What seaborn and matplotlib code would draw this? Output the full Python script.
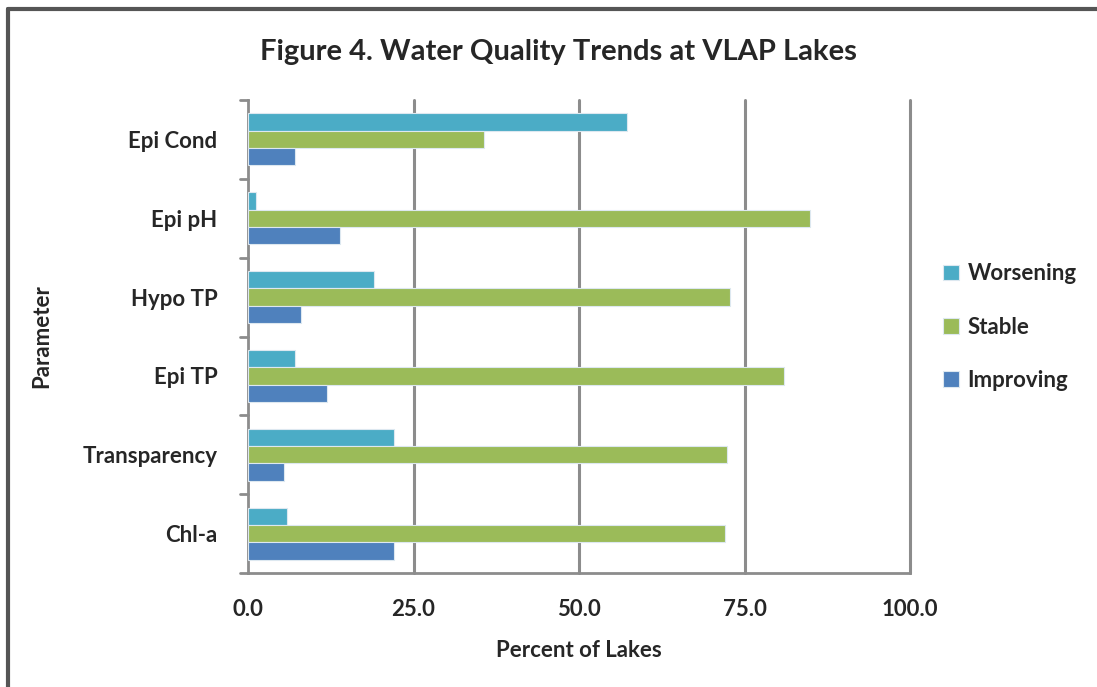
import pandas as pd
import seaborn as sns
import matplotlib.pyplot as plt
from matplotlib.lines import Line2D
import numpy as np

parameters = ['Epi Cond', 'Epi pH', 'Hypo TP', 'Epi TP', 'Transparency', 'Chl-a']
worsening = [57.2, 1.2, 19.1, 7.1, 22.0, 5.9]
stable = [35.6, 84.9, 72.8, 80.9, 72.4, 72.0]
improving = [7.1, 13.9, 8.0, 11.9, 5.5, 22.0]
trends = ['Worsening', 'Stable', 'Improving']
colors = ['#4BACC6', '#9BBB59', '#4F81BD']
xticks = [0.0, 25.0, 50.0, 75.0, 100.0]

df = pd.DataFrame({'Parameter': parameters, 'Worsening': worsening,
                   'Stable': stable, 'Improving': improving})
df = df.melt(id_vars='Parameter', var_name='Trend', value_name='Percent')

sns.set_style('white')
plt.rcParams['font.family'] = ['Lato', 'DejaVu Sans']
plt.rcParams['font.weight'] = 'bold'

fig = plt.figure(figsize=(10.97, 6.87), dpi=100)
ax = fig.add_axes([248 / 1097, 1 - 573 / 687, (910 - 248) / 1097, (573 - 100) / 687])

sns.barplot(data=df, x='Percent', y='Parameter', hue='Trend', order=parameters,
            hue_order=trends, palette=colors, width=0.66, orient='h', saturation=1,
            edgecolor='#dde8f0', linewidth=0.8, ax=ax, zorder=3)

ax.set_xlim(0, 100)
ax.set_ylim(5.5, -0.5)
ax.set_xticks(xticks)
ax.set_xticklabels([f'{v:.1f}' for v in xticks], fontsize=16, fontweight='bold')
ax.tick_params(axis='x', length=6, width=1.5, color='#8c8c8c', pad=13, direction='out')
ax.set_yticks(range(len(parameters)))
ax.set_yticklabels(parameters, fontsize=16, fontweight='bold')
ax.tick_params(axis='y', length=0, pad=22)
for b in np.arange(-0.5, len(parameters), 1.0):
    ax.plot([-0.012, 0], [b, b], transform=ax.get_yaxis_transform(), color='#8c8c8c',
            lw=2, clip_on=False, zorder=4)
ax.yaxis.grid(False)
ax.xaxis.grid(False)
for v in xticks[1:]:
    ax.axvline(v, color='#8c8c8c', lw=2.2, zorder=2, clip_on=False)
for s in ['top', 'right']:
    ax.spines[s].set_visible(False)
for s in ['left', 'bottom']:
    ax.spines[s].set_color('#8c8c8c')
    ax.spines[s].set_linewidth(2)

ax.set_xlabel('Percent of Lakes', fontsize=16, fontweight='bold', labelpad=14)
ax.set_ylabel('Parameter', fontsize=16, fontweight='bold', labelpad=22)

ax.legend(loc='center left', bbox_to_anchor=(1.02, 0.52), frameon=False,
          handlelength=0.7, handleheight=0.7, handletextpad=0.4, labelspacing=1.45,
          prop={'weight': 'bold', 'size': 16})

fig.text(558 / 1097, 1 - 52 / 687, 'Figure 4. Water Quality Trends at VLAP Lakes',
         ha='center', va='center', fontsize=21, fontweight='bold')

fig.add_artist(Line2D([8 / 1097, 8 / 1097], [0, 1 - 9 / 687], color='#555555', lw=3,
                      transform=fig.transFigure))
fig.add_artist(Line2D([8 / 1097, 1], [1 - 9 / 687, 1 - 9 / 687], color='#555555', lw=3,
                      transform=fig.transFigure))

fig.savefig('out.png', dpi=100)
